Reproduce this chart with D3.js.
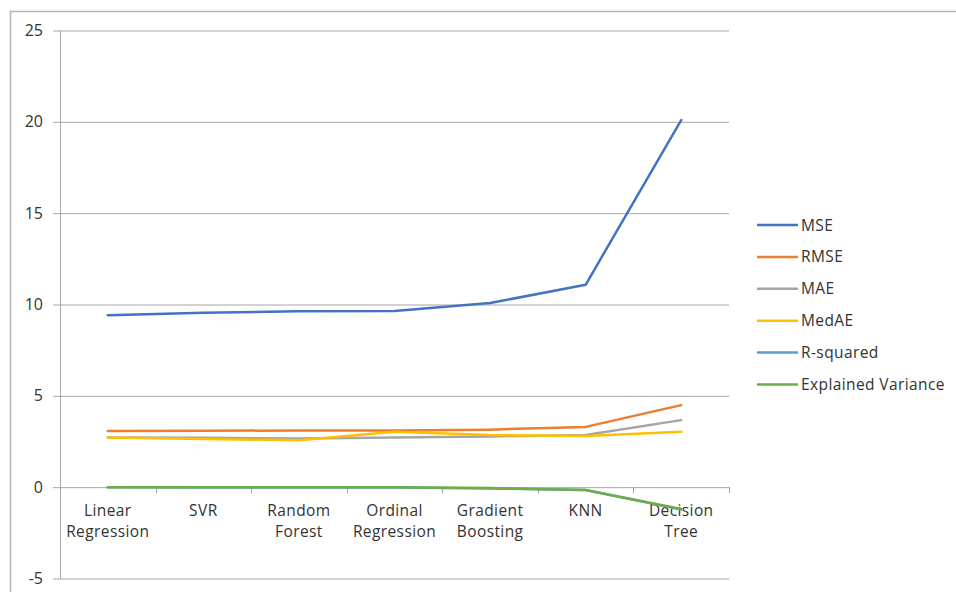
<!DOCTYPE html>
<html>
<head>
<meta charset="utf-8">
<script src="https://cdn.jsdelivr.net/npm/d3@7"></script>
<style>
  html, body { margin: 0; padding: 0; background: #fff; }
  svg text { font-family: "Open Sans", "Liberation Sans", sans-serif; }
</style>
</head>
<body>
<svg id="chart" width="956" height="592"></svg>
<script>
// Regression model error metrics
const models = ["Linear Regression", "SVR", "Random Forest", "Ordinal Regression", "Gradient Boosting", "KNN", "Decision Tree"];
const mse       = [9.41, 9.55, 9.63, 9.64, 10.08, 11.08, 20.1];
const rmse      = [3.07, 3.09, 3.10, 3.10, 3.15, 3.30, 4.49];
const mae       = [2.72, 2.70, 2.67, 2.72, 2.78, 2.85, 3.67];
const medae     = [2.72, 2.64, 2.57, 3.03, 2.85, 2.80, 3.03];
const rSquared  = [-0.01, -0.02, -0.02, -0.02, -0.07, -0.16, -1.22];
const explVar   = [0.00, -0.01, -0.01, -0.01, -0.05, -0.15, -1.20];
const yTicks    = [-5, 0, 5, 10, 15, 20, 25];

const seriesNames  = ["MSE", "RMSE", "MAE", "MedAE", "R-squared", "Explained Variance"];
const seriesValues = [mse, rmse, mae, medae, rSquared, explVar];
const seriesColors = ["#4472C4", "#ED7D31", "#A5A5A5", "#FFC000", "#5B9BD5", "#70AD47"];

const textColor = "#333333";
const svg = d3.select("#chart");

// chart area frame
svg.append("rect")
  .attr("x", 10.5).attr("y", 11.5)
  .attr("width", 960).attr("height", 600)
  .attr("fill", "none").attr("stroke", "#b4b4b4").attr("stroke-width", 1.5);

const x = d3.scaleBand().domain(models).range([60, 729]);
const y = d3.scaleLinear().domain([-5, 25]).range([578.5, 30.5]);

// horizontal gridlines + y tick labels
const yAxis = svg.append("g").attr("transform", "translate(60,0)")
  .call(d3.axisLeft(y).tickValues(yTicks).tickFormat(d => String(d))
    .tickSize(-(729 - 60)).tickSizeOuter(0).tickPadding(17));
yAxis.select(".domain").remove();
yAxis.selectAll(".tick line").attr("stroke", "#a6a6a6").attr("x1", -7);
yAxis.selectAll(".tick text").attr("font-size", 16).attr("fill", textColor);

// y-axis line
svg.append("line").attr("x1", 60.5).attr("x2", 60.5).attr("y1", y(25)).attr("y2", y(-5))
  .attr("stroke", "#a6a6a6");

// category axis along zero
const xAxisG = svg.append("g").attr("transform", `translate(0,${y(0)})`);
const bounds = models.map(m => x(m)).concat([x.range()[1]]);
xAxisG.selectAll("line.tick").data(bounds).join("line")
  .attr("class", "tick")
  .attr("x1", d => Math.round(d) + 0.5).attr("x2", d => Math.round(d) + 0.5)
  .attr("y1", 0).attr("y2", 6).attr("stroke", "#a6a6a6");

const labelLines = {
  "Linear Regression": ["Linear", "Regression"],
  "SVR": ["SVR"],
  "Random Forest": ["Random", "Forest"],
  "Ordinal Regression": ["Ordinal", "Regression"],
  "Gradient Boosting": ["Gradient", "Boosting"],
  "KNN": ["KNN"],
  "Decision Tree": ["Decision", "Tree"]
};

// series lines
const line = d3.line()
  .x((d, i) => x(models[i]) + x.bandwidth() / 2)
  .y(d => y(d));

svg.append("g").selectAll("path").data(seriesValues).join("path")
  .attr("d", d => line(d))
  .attr("fill", "none")
  .attr("stroke", (d, i) => seriesColors[i])
  .attr("stroke-width", 2.5)
  .attr("stroke-linejoin", "round")
  .attr("stroke-linecap", "round");

// category labels
xAxisG.selectAll("text.cat").data(models).join("text")
  .attr("class", "cat")
  .attr("text-anchor", "middle")
  .attr("font-size", 15.5)
  .attr("letter-spacing", 0.4)
  .attr("fill", textColor)
  .each(function (d) {
    d3.select(this).selectAll("tspan").data(labelLines[d]).join("tspan")
      .attr("x", x(d) + x.bandwidth() / 2)
      .attr("y", (t, i) => 29 + i * 21)
      .text(t => t);
  });

// legend
const legend = svg.append("g");
const rows = legend.selectAll("g").data(seriesNames).join("g")
  .attr("transform", (d, i) => `translate(757,${225 + i * 31.9})`);
rows.append("line").attr("x1", 0).attr("x2", 41).attr("y1", 0).attr("y2", 0)
  .attr("stroke", (d, i) => seriesColors[i]).attr("stroke-width", 2.5);
rows.append("text").attr("x", 44).attr("y", 5.5).attr("font-size", 15.5)
  .attr("letter-spacing", 0.4)
  .attr("fill", textColor).text(d => d);
</script>
</body>
</html>
